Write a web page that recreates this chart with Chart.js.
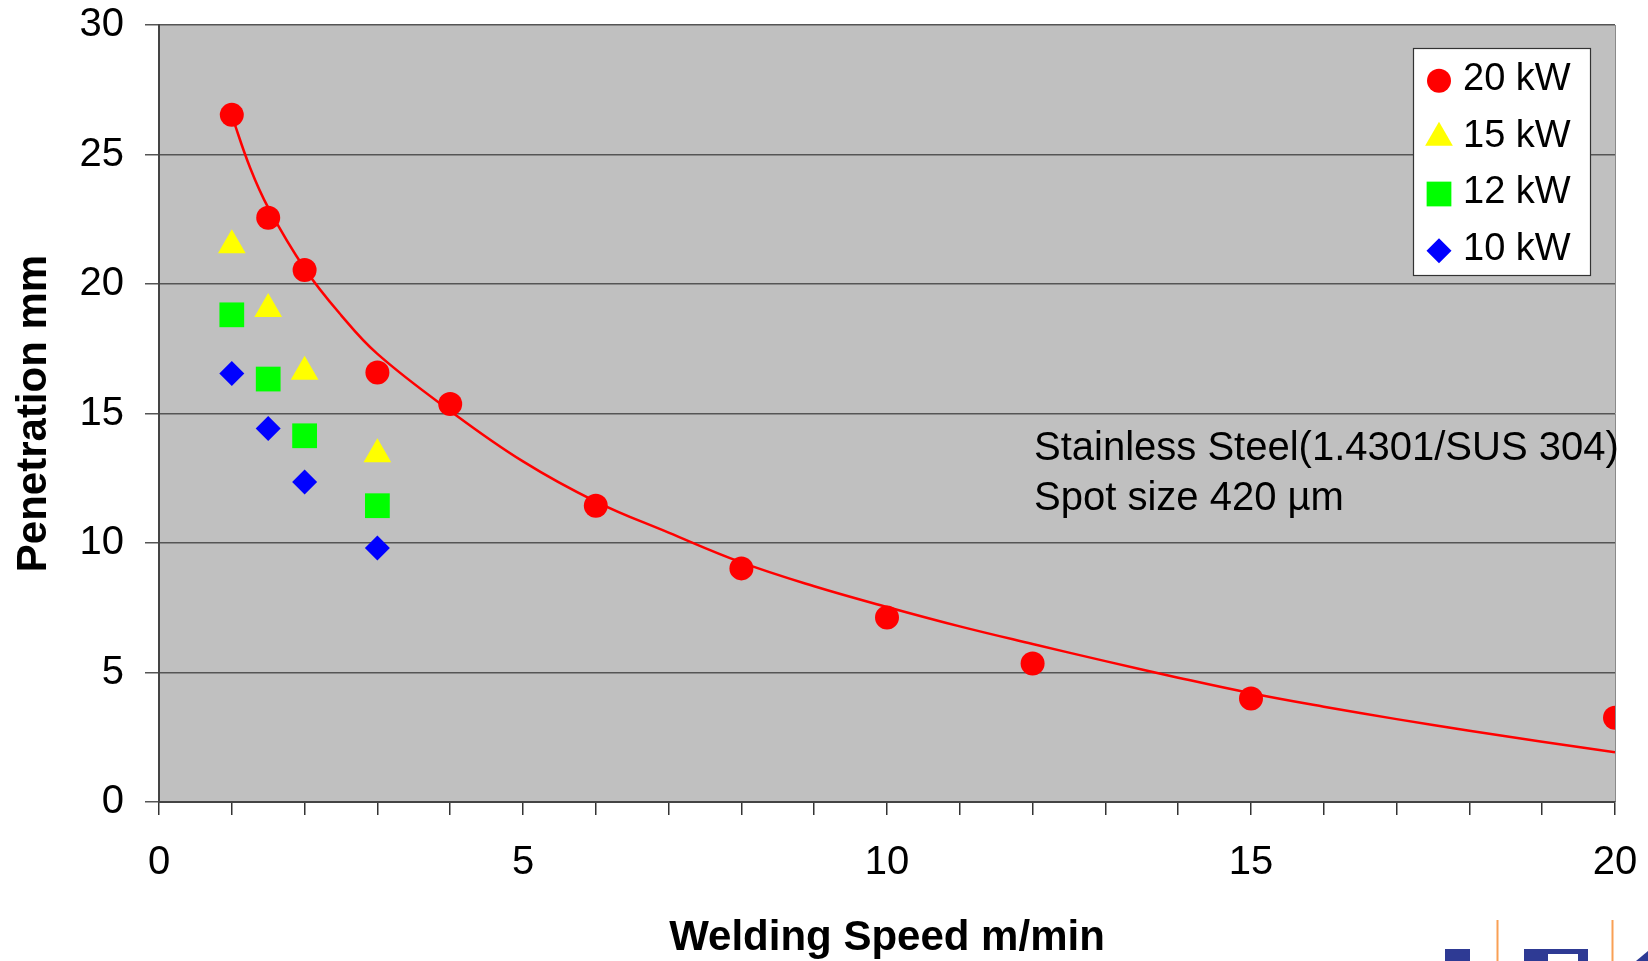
<!DOCTYPE html>
<html>
<head>
<meta charset="utf-8">
<script src="https://cdn.jsdelivr.net/npm/chart.js@4"></script>
<style>
  body { margin: 0; background: #fff; }
  #wrap { width: 1648px; height: 961px; }
</style>
</head>
<body>
<div id="wrap"><canvas id="penetrationChart" width="1648" height="961"></canvas></div>
<script>
// Penetration vs welding speed, stainless steel
// Data
const speeds20 = [1, 1.5, 2, 3, 4, 6, 8, 10, 12, 15, 20];
const pen20 = [26.53, 22.56, 20.54, 16.58, 15.37, 11.44, 9.02, 7.12, 5.35, 4.0, 3.25];

const speedsLow = [1, 1.5, 2, 3];
const pen15 = [21.5, 19.03, 16.61, 13.43];
const pen12 = [18.81, 16.33, 14.14, 11.44];
const pen10 = [16.54, 14.42, 12.36, 9.81];

// trend curve of the 20 kW series
const trendX = [1, 1.25, 1.5, 2, 2.5, 3, 4, 5, 6, 7, 8, 9, 10, 11, 12, 13, 14, 15, 16, 17, 18, 19, 20];
const trendY = [26.5, 24.5, 22.95, 20.6, 18.8, 17.3, 15.1, 13.15, 11.6, 10.4, 9.25, 8.33, 7.53, 6.78, 6.1, 5.44, 4.8, 4.2, 3.68, 3.2, 2.75, 2.33, 1.92];

const xTicksMajor = 5;
const yStep = 5;

const toPoints = (xs, ys) => xs.map((x, i) => ({ x: x, y: ys[i] }));

const FONT = "'Liberation Sans', Arial, Helvetica, sans-serif";

// Graph data
const datasets = [
  {
    label: "20 kW",
    data: toPoints(speeds20, pen20),
    pointStyle: "circle",
    pointRadius: 12,
    backgroundColor: "#FF0000",
    borderColor: "#FF0000",
    borderWidth: 0,
  },
  {
    label: "15 kW",
    data: toPoints(speedsLow, pen15),
    pointStyle: "triangle",
    pointRadius: 16,
    backgroundColor: "#FFFF00",
    borderColor: "#FFFF00",
    borderWidth: 0,
  },
  {
    label: "12 kW",
    data: toPoints(speedsLow, pen12),
    pointStyle: "rect",
    pointRadius: 17.5,
    backgroundColor: "#00FF00",
    borderColor: "#00FF00",
    borderWidth: 0,
  },
  {
    label: "10 kW",
    data: toPoints(speedsLow, pen10),
    pointStyle: "rectRot",
    pointRadius: 12.5,
    backgroundColor: "#0000FF",
    borderColor: "#0000FF",
    borderWidth: 0,
  },
  {
    label: "trend",
    isTrend: true,
    data: toPoints(trendX, trendY),
    showLine: true,
    pointRadius: 0,
    borderColor: "#FF0000",
    borderWidth: 2.5,
    tension: 0.4,
    fill: false,
  },
];

// grey plot background
const plotBg = {
  id: "plotBg",
  beforeDraw(chart) {
    const { ctx, chartArea: a } = chart;
    ctx.save();
    ctx.fillStyle = "#C0C0C0";
    ctx.fillRect(a.left, a.top, a.right - a.left, a.bottom - a.top);
    ctx.strokeStyle = "#8a8a8a";
    ctx.lineWidth = 1;
    ctx.beginPath();
    ctx.moveTo(a.right + 0.5, a.top);
    ctx.lineTo(a.right + 0.5, a.bottom);
    ctx.stroke();
    ctx.restore();
  },
};

// boxed legend + note text + bits of the logo at the bottom
const extras = {
  id: "extras",
  afterDraw(chart) {
    const ctx = chart.ctx;
    ctx.save();

    // legend box
    ctx.fillStyle = "#FFFFFF";
    ctx.fillRect(1413, 48, 178, 228);
    ctx.strokeStyle = "#333";
    ctx.lineWidth = 1.2;
    ctx.strokeRect(1413.5, 48.5, 177, 227);

    const rows = [80.7, 137.7, 194, 250.7];
    const series = chart.data.datasets.filter((d) => !d.isTrend);
    series.forEach((d, i) => {
      ctx.fillStyle = d.backgroundColor;
      ctx.strokeStyle = d.borderColor;
      Chart.helpers.drawPoint(ctx, {
        pointStyle: d.pointStyle,
        radius: d.pointRadius,
        rotation: 0,
        borderWidth: 0,
      }, 1439, rows[i]);
      ctx.fillStyle = "#000";
      ctx.font = "38px " + FONT;
      ctx.textAlign = "left";
      ctx.textBaseline = "middle";
      ctx.fillText(d.label, 1463, rows[i] - 1);
    });

    // note
    ctx.fillStyle = "#000";
    ctx.font = "40px " + FONT;
    ctx.textBaseline = "alphabetic";
    ctx.fillText("Stainless Steel(1.4301/SUS 304)", 1034, 460);
    ctx.fillText("Spot size 420 \u00b5m", 1034, 510);

    // cut-off logo at the bottom right
    ctx.strokeStyle = "#F9A055";
    ctx.lineWidth = 2;
    ctx.beginPath();
    ctx.moveTo(1497.5, 920); ctx.lineTo(1497.5, 961);
    ctx.moveTo(1612.5, 920); ctx.lineTo(1612.5, 961);
    ctx.stroke();
    ctx.fillStyle = "#2E3A94";
    ctx.fillRect(1445, 949, 25, 12);
    ctx.fillRect(1524, 949, 64, 12);
    ctx.beginPath();
    ctx.moveTo(1636, 961); ctx.lineTo(1648, 951); ctx.lineTo(1648, 961);
    ctx.fill();
    ctx.fillStyle = "#FFFFFF";
    ctx.fillRect(1548, 954, 30, 7);

    ctx.restore();
  },
};

// Create graph
const canvas = document.getElementById("penetrationChart");
new Chart(canvas, {
  type: "scatter",
  data: { datasets: datasets },
  options: {
    responsive: false,
    animation: false,
    devicePixelRatio: 1,
    layout: {
      autoPadding: false,
      padding: { top: 25, right: 33, left: 0, bottom: 0 },
    },
    plugins: {
      legend: { display: false },
      tooltip: { enabled: false },
    },
    scales: {
      x: {
        type: "linear",
        position: "bottom",
        min: 0,
        max: 20,
        afterFit: (s) => {
          s.height = 159;
          s.paddingLeft = 0;
          s.paddingRight = 0;
        },
        ticks: {
          stepSize: 1,
          autoSkip: false,
          maxRotation: 0,
          padding: 24,
          color: "#000",
          font: { family: FONT, size: 40 },
          callback: (v) => (v % xTicksMajor === 0 ? v : ""),
        },
        grid: {
          drawOnChartArea: false,
          tickLength: 13,
          color: "#333",
          lineWidth: 1.5,
        },
        border: { color: "#444", width: 2 },
        title: {
          display: true,
          text: "Welding Speed m/min",
          color: "#000",
          font: { family: FONT, size: 42, weight: "bold" },
          padding: { top: 0, bottom: -3 },
        },
      },
      y: {
        min: 0,
        max: 30,
        afterFit: (s) => {
          s.width = 159;
          s.paddingTop = 0;
          s.paddingBottom = 0;
        },
        ticks: {
          stepSize: yStep,
          padding: 21,
          color: "#000",
          font: { family: FONT, size: 40 },
        },
        grid: {
          color: "#555",
          lineWidth: 1.5,
          tickLength: 14,
        },
        border: { color: "#444", width: 2 },
        title: {
          display: true,
          text: "Penetration mm",
          color: "#000",
          font: { family: FONT, size: 42, weight: "bold" },
          padding: { top: 9, bottom: 0 },
        },
      },
    },
  },
  plugins: [plotBg, extras],
});
</script>
</body>
</html>
